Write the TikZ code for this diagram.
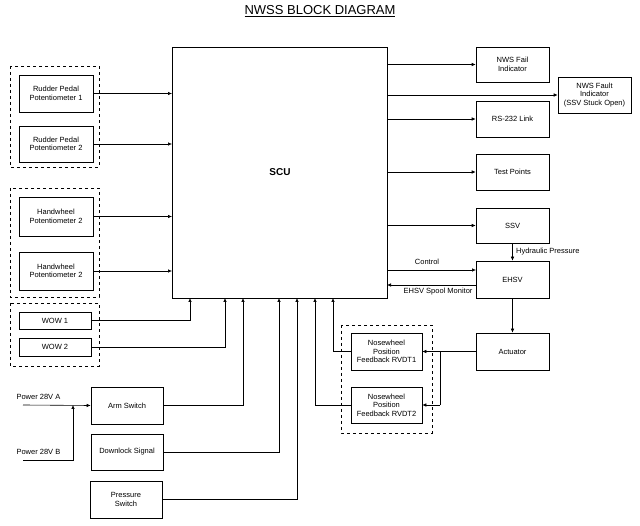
\documentclass[tikz,border=0pt]{standalone}
\usepackage{fontspec}
\setmainfont{Liberation Sans}
\usetikzlibrary{arrows.meta}
\begin{document}
\begin{tikzpicture}[x=1pt,y=-1pt,
  box/.style={draw,line width=0.6pt,align=center,font=\fontsize{7.5}{8.5}\selectfont},
  grp/.style={draw,dashed,line width=0.8pt},
  arr/.style={-{Latex[length=4pt,width=3.5pt]},line width=0.6pt},
  lbl/.style={font=\fontsize{7.5}{8.5}\selectfont}]
\useasboundingbox (0,0) rectangle (640,526);
\node[font=\fontsize{13}{15}\selectfont] (title) at (320,11) {\underline{NWSS BLOCK DIAGRAM}};
% SCU
\draw[line width=0.6pt] (172,47) rectangle (387,298);
\node[font=\bfseries\fontsize{10}{11}\selectfont] (scu) at (280,172) {SCU};
% groups
\draw[grp] (10,66) rectangle (99,167);
\draw[grp] (10,188) rectangle (99,297);
\draw[grp] (10,303) rectangle (99,366);
\draw[grp] (341,325) rectangle (432,433);
% left boxes
\node[box,minimum width=74pt,minimum height=37pt] (rp1) at (56,93.5) {Rudder Pedal\\Potentiometer 1};
\node[box,minimum width=74pt,minimum height=36pt] (rp2) at (56,144) {Rudder Pedal\\Potentiometer 2};
\node[box,minimum width=74pt,minimum height=39pt] (hw1) at (56,216.5) {Handwheel\\Potentiometer 2};
\node[box,minimum width=74pt,minimum height=38pt] (hw2) at (56,271) {Handwheel\\Potentiometer 2};
\node[box,minimum width=72pt,minimum height=17pt] (wow1) at (55,320.5) {WOW 1};
\node[box,minimum width=72pt,minimum height=18pt] (wow2) at (55,347) {WOW 2};
\node[box,minimum width=72pt,minimum height=37pt] (arm) at (127,405.5) {Arm Switch};
\node[box,minimum width=72pt,minimum height=36pt] (dl) at (127,452) {Downlock Signal};
\node[box,minimum width=72pt,minimum height=37pt] (ps) at (126,499.5) {Pressure\\Switch};
\node[box,minimum width=71pt,minimum height=37pt] (rv1) at (386.5,351.5) {Nosewheel\\Position\\Feedback RVDT1};
\node[box,minimum width=71pt,minimum height=36pt] (rv2) at (386.5,405) {Nosewheel\\Position\\Feedback RVDT2};
% right boxes
\node[box,minimum width=73pt,minimum height=35pt] (fail) at (512.5,64.5) {NWS Fail\\Indicator};
\node[box,minimum width=73pt,minimum height=36pt] (fault) at (594.5,95) {NWS Fault\\Indicator\\(SSV Stuck Open)};
\node[box,minimum width=73pt,minimum height=36pt] (rs) at (512.5,119) {RS-232 Link};
\node[box,minimum width=73pt,minimum height=36pt] (tp) at (512.5,172) {Test Points};
\node[box,minimum width=73pt,minimum height=35pt] (ssv) at (512.5,225.5) {SSV};
\node[box,minimum width=73pt,minimum height=37pt] (ehsv) at (512.5,279.5) {EHSV};
\node[box,minimum width=73pt,minimum height=37pt] (act) at (512.5,351.5) {Actuator};
% left inputs
\draw[arr] (rp1.east) -- (172,93.5);
\draw[arr] (rp2.east) -- (172,144);
\draw[arr] (hw1.east) -- (172,216.5);
\draw[arr] (hw2.east) -- (172,271);
\draw[arr] (wow1.east) -| (190,298);
\draw[arr] (wow2.east) -| (225,298);
\draw[arr] (arm.east) -| (243,298);
\draw[arr] (dl.east) -| (279,298);
\draw[arr] (ps.east) -| (297,298);
\draw[arr] (rv1.west) -| (333,298);
\draw[arr] (rv2.west) -| (315,298);
% power
\node[lbl,anchor=west] (pa) at (13,397) {Power 28V A};
\node[lbl,anchor=west] (pb) at (13,452) {Power 28V B};
\coordinate (pas) at (23,405);
\coordinate (pbs) at (23,460);
\coordinate (pj) at (73,405);
\draw[arr] (pas) -- (arm.west);
\draw[arr] (pbs) -| (pj);
% outputs
\draw[arr] (387,64.5) -- (fail.west);
\draw[arr] (387,95) -- (fault.west);
\draw[arr] (387,119) -- (rs.west);
\draw[arr] (387,172) -- (tp.west);
\draw[arr] (387,225.5) -- (ssv.west);
\draw[arr] (387,270) -- (476,270);
\draw[arr] (476,285) -- (387,285);
\node[lbl] (ctl) at (427,262) {Control};
\node[lbl,anchor=east] (spool) at (476,292) {EHSV Spool Monitor};
\draw[arr] (ssv.south) -- (ehsv.north) node[lbl,midway,anchor=west] {Hydraulic Pressure};
\draw[arr] (ehsv.south) -- (act.north);
\coordinate (aj) at (440,351.5);
\draw[line width=0.6pt] (act.west) -- (aj) -- (440,405);
\draw[arr] (aj) -- (rv1.east);
\draw[arr] (440,405) -- (rv2.east);
\end{tikzpicture}
\end{document}
